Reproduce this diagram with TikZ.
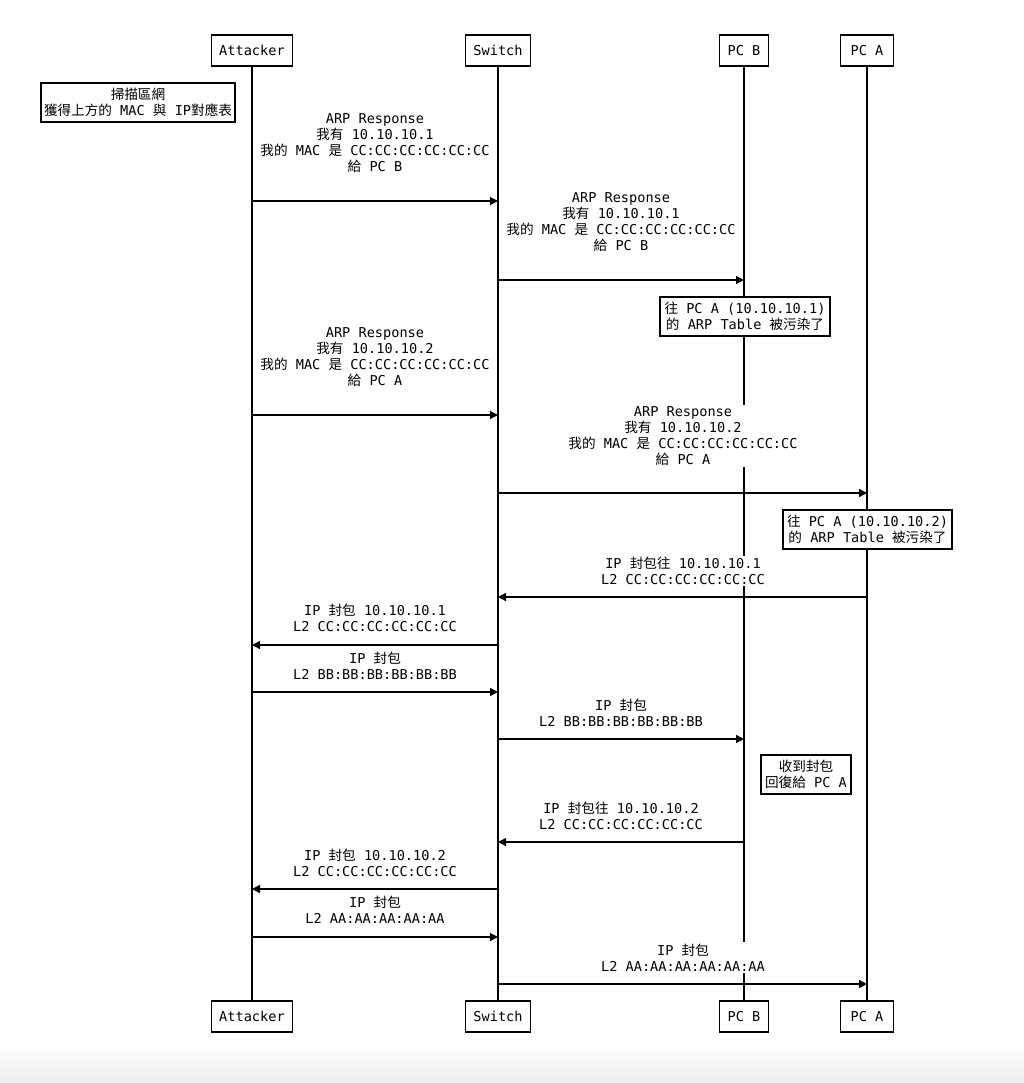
\documentclass[tikz,border=0pt]{standalone}
\usepackage{fontspec}
\setmonofont{DejaVu Sans Mono}
\newfontfamily\cjkfont{Noto Sans CJK TC}
\usetikzlibrary{arrows.meta}
\newcommand\zh[1]{{\cjkfont #1}}
\begin{document}
\begin{tikzpicture}[x=0.75pt,y=-0.75pt,
  every node/.style={font=\ttfamily\fontsize{10.2}{12}\selectfont, text=black},
  actor/.style={draw, line width=1.2pt, fill=white, inner sep=0pt, minimum height=23.25pt},
  note/.style={draw, line width=1.2pt, fill=white, inner sep=0pt, align=center, minimum height=29.25pt},
  lbl/.style={fill=white, inner sep=1pt, align=center},
  life/.style={line width=1pt},
  msg/.style={line width=1pt, -{Triangle[length=6pt,width=6pt]}}]
\useasboundingbox (0,0) rectangle (1024,1083);
\shade[top color=white, bottom color=black!7] (0,1045) rectangle (1024,1083);

% actors
\node[actor, minimum width=60.75pt] (aT) at (252,50.5) {Attacker};
\node[actor, minimum width=48.75pt] (sT) at (498,50.5) {Switch};
\node[actor, minimum width=36.75pt] (bT) at (744,50.5) {PC B};
\node[actor, minimum width=39.75pt] (pT) at (867,50.5) {PC A};
\node[actor, minimum width=60.75pt] (aB) at (252,1016.5) {Attacker};
\node[actor, minimum width=48.75pt] (sB) at (498,1016.5) {Switch};
\node[actor, minimum width=36.75pt] (bB) at (744,1016.5) {PC B};
\node[actor, minimum width=39.75pt] (pB) at (867,1016.5) {PC A};

% lifelines
\draw[life] (aT) -- (aB);
\draw[life] (sT) -- (sB);
\draw[life] (bT) -- (bB);
\draw[life] (pT) -- (pB);

% message rows
\coordinate (m1) at (0,201);
\coordinate (m2) at (0,280);
\coordinate (m4) at (0,415);
\coordinate (m5) at (0,493);
\coordinate (m7) at (0,597);
\coordinate (m8) at (0,645);
\coordinate (m9) at (0,692);
\coordinate (m10) at (0,739);
\coordinate (m12) at (0,842);
\coordinate (m13) at (0,889);
\coordinate (m14) at (0,937);
\coordinate (m15) at (0,984);

% labels
\node[lbl] (l1) at (375,143) {ARP Response\\\zh{我有} 10.10.10.1\\\zh{我的} MAC \zh{是} CC:CC:CC:CC:CC:CC\\\zh{給} PC B};
\node[lbl] (l2) at (621,222) {ARP Response\\\zh{我有} 10.10.10.1\\\zh{我的} MAC \zh{是} CC:CC:CC:CC:CC:CC\\\zh{給} PC B};
\node[lbl] (l4) at (375,357) {ARP Response\\\zh{我有} 10.10.10.2\\\zh{我的} MAC \zh{是} CC:CC:CC:CC:CC:CC\\\zh{給} PC A};
\node[lbl] (l5) at (683,436) {ARP Response\\\zh{我有} 10.10.10.2\\\zh{我的} MAC \zh{是} CC:CC:CC:CC:CC:CC\\\zh{給} PC A};
\node[lbl] (l7) at (683,571) {IP \zh{封包往} 10.10.10.1\\L2 CC:CC:CC:CC:CC:CC};
\node[lbl] (l8) at (375,618) {IP \zh{封包} 10.10.10.1\\L2 CC:CC:CC:CC:CC:CC};
\node[lbl] (l9) at (375,666) {IP \zh{封包}\\L2 BB:BB:BB:BB:BB:BB};
\node[lbl] (l10) at (621,713) {IP \zh{封包}\\L2 BB:BB:BB:BB:BB:BB};
\node[lbl] (l12) at (621,815.5) {IP \zh{封包往} 10.10.10.2\\L2 CC:CC:CC:CC:CC:CC};
\node[lbl] (l13) at (375,863) {IP \zh{封包} 10.10.10.2\\L2 CC:CC:CC:CC:CC:CC};
\node[lbl] (l14) at (375,910) {IP \zh{封包}\\L2 AA:AA:AA:AA:AA};
\node[lbl] (l15) at (683,957.5) {IP \zh{封包}\\L2 AA:AA:AA:AA:AA:AA};

% notes
\node[note, minimum width=145.5pt] (n1) at (138,102.5) {\zh{掃描區網}\\\zh{獲得上方的} MAC \zh{與} IP\zh{對應表}};
\node[note, minimum width=127.5pt] (n2) at (745,316.5) {\zh{往} PC A (10.10.10.1)\\\zh{的} ARP Table \zh{被污染了}};
\node[note, minimum width=126.75pt] (n3) at (867.5,529.5) {\zh{往} PC A (10.10.10.2)\\\zh{的} ARP Table \zh{被污染了}};
\node[note, minimum width=67.5pt] (n4) at (806,774.5) {\zh{收到封包}\\\zh{回復給} PC A};

% messages
\draw[msg] (aT |- m1) -- (sT |- m1);
\draw[msg] (sT |- m2) -- (bT |- m2);
\draw[msg] (aT |- m4) -- (sT |- m4);
\draw[msg] (sT |- m5) -- (pT |- m5);
\draw[msg] (pT |- m7) -- (sT |- m7);
\draw[msg] (sT |- m8) -- (aT |- m8);
\draw[msg] (aT |- m9) -- (sT |- m9);
\draw[msg] (sT |- m10) -- (bT |- m10);
\draw[msg] (bT |- m12) -- (sT |- m12);
\draw[msg] (sT |- m13) -- (aT |- m13);
\draw[msg] (aT |- m14) -- (sT |- m14);
\draw[msg] (sT |- m15) -- (pT |- m15);
\end{tikzpicture}
\end{document}
